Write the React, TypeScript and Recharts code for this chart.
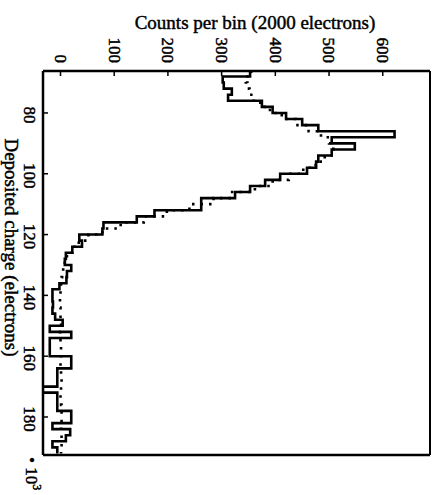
import React from "react";
import { ComposedChart, Line, XAxis, YAxis } from "recharts";

// lower edge of each 2000-electron bin (x 10^3 electrons)
const binEdges = [
    66, 68, 70, 72, 74, 76, 78, 80, 82, 84, 86, 88, 90, 92, 94, 96, 98, 100,
    102, 104, 106, 108, 110, 112, 114, 116, 118, 120, 122, 124, 126, 128, 130,
    132, 134, 136, 138, 140, 142, 144, 146, 148, 150, 152, 154, 156, 158, 160,
    162, 164, 166, 168, 170, 172, 174, 176, 178, 180, 182, 184, 186, 188, 190,
];
const lastEdge = 192;

// measured histogram (solid)
const measuredCounts = [
    353, 302, 304, 319, 312, 375, 395, 420, 450, 480, 622, 505, 548, 505, 480,
    476, 459, 409, 381, 353, 325, 262, 262, 175, 142, 80, 78, 35, 40, 22, 10, 8,
    20, 12, 11, -2, -15, -15, -14, -15, -10, 4, -20, 20, -20, -20, -20, 20, 20,
    -6, -6, -6, -33, -6, -6, -6, 20, 20, -15, 18, 10, -15, -6,
];

// expected shape (dotted)
const fitCounts = [
    355, 345, 348, 352, 360, 372, 390, 412, 438, 462, 485, 500, 508, 505, 492,
    475, 452, 425, 395, 362, 315, 285, 240, 198, 155, 112, 78, 52, 34, 22, 12, 8,
    5, 3, 2, 1, 0, -1, -1, 0, 0, 1, 0, -1, 0, 1, 1, 0, 0, 1, 2, 2, 1, 0, 1, 2,
    2, 2, 1, 1, 2, 2, 1,
];

const countTicks = [0, 100, 200, 300, 400, 500, 600];
const chargeTicks = [80, 100, 120, 140, 160, 180];

const countDomain = [-32.6, 688];
const chargeDomain = [66.2, 192.5];

const FONT = "'Liberation Serif', 'DejaVu Serif', serif";
// scanned original has heavy strokes, thicken text a bit
const ink = { fill: "#000", stroke: "#000", strokeWidth: 0.45 };

const data = binEdges.map((charge, i) => ({
    charge,
    measured: measuredCounts[i],
    fit: fitCounts[i],
}));
data.push({
    charge: lastEdge,
    measured: measuredCounts[measuredCounts.length - 1],
    fit: fitCounts[fitCounts.length - 1],
});

const TopTick = (props: any) => {
    const { x, y, payload } = props;
    const tx = x - 5.6;
    return (
        <g>
            <line x1={x} y1={y} x2={x} y2={y + 5} stroke="#000" strokeWidth={1.5} />
            <text
                x={tx}
                y={63}
                transform={`rotate(90, ${tx}, 63)`}
                textAnchor="end"
                fontFamily={FONT}
                fontSize={17}
                {...ink}
            >
                {payload.value}
            </text>
        </g>
    );
};

const LeftTick = (props: any) => {
    const { x, y, payload } = props;
    const ty = y + 2;
    return (
        <g>
            <line x1={x} y1={y} x2={x + 5} y2={y} stroke="#000" strokeWidth={1.5} />
            <text
                x={23.5}
                y={ty}
                transform={`rotate(90, 23.5, ${ty})`}
                textAnchor="middle"
                fontFamily={FONT}
                fontSize={17}
                {...ink}
            >
                {payload.value}
            </text>
        </g>
    );
};

const CountsTitle = () => (
    <text x={255} y={29} textAnchor="middle" fontFamily={FONT} fontSize={19} {...ink}>
        Counts per bin (2000 electrons)
    </text>
);

const ChargeTitle = () => (
    <g>
        <text
            x={5}
            y={247.5}
            transform="rotate(90, 5, 247.5)"
            textAnchor="middle"
            fontFamily={FONT}
            fontSize={19}
            {...ink}
        >
            Deposited charge (electrons)
        </text>
        <text
            x={26}
            y={457}
            transform="rotate(90, 26, 457)"
            fontFamily={FONT}
            fontSize={17}
            {...ink}
        >
            {"• 10"}
            <tspan dy={-7} fontSize={12}>3</tspan>
        </text>
    </g>
);

const frame = { stroke: "#000", strokeWidth: 2.5 };

export default function App() {
    return (
        <div style={{ position: "absolute", left: 0, top: 0, width: 436, height: 495, background: "#fff" }}>
            <ComposedChart
                width={436}
                height={495}
                data={data}
                layout="vertical"
                margin={{ top: 0, right: 0, bottom: 0, left: 0 }}
            >
                <XAxis
                    type="number"
                    orientation="top"
                    domain={countDomain}
                    allowDataOverflow
                    ticks={countTicks}
                    interval={0}
                    height={71}
                    tickSize={0}
                    tickMargin={0}
                    tickLine={false}
                    axisLine={frame}
                    tick={<TopTick />}
                    label={<CountsTitle />}
                />
                <XAxis
                    xAxisId="b"
                    type="number"
                    orientation="bottom"
                    domain={countDomain}
                    allowDataOverflow
                    height={40}
                    tick={false}
                    tickLine={false}
                    axisLine={frame}
                />
                <YAxis
                    type="number"
                    dataKey="charge"
                    orientation="left"
                    domain={chargeDomain}
                    allowDataOverflow
                    ticks={chargeTicks}
                    interval={0}
                    width={43}
                    tickSize={0}
                    tickMargin={0}
                    tickLine={false}
                    axisLine={frame}
                    tick={<LeftTick />}
                    label={<ChargeTitle />}
                />
                <YAxis
                    yAxisId="r"
                    type="number"
                    dataKey="charge"
                    orientation="right"
                    domain={chargeDomain}
                    allowDataOverflow
                    width={6}
                    tick={false}
                    tickLine={false}
                    axisLine={{ stroke: "#000", strokeWidth: 2 }}
                />
                <Line
                    dataKey="fit"
                    type="stepBefore"
                    stroke="#000"
                    strokeWidth={2.6}
                    strokeDasharray="2.5 6"
                    dot={false}
                    activeDot={false}
                    isAnimationActive={false}
                />
                <Line
                    dataKey="measured"
                    type="stepBefore"
                    stroke="#000"
                    strokeWidth={2.6}
                    dot={false}
                    activeDot={false}
                    isAnimationActive={false}
                />
            </ComposedChart>
        </div>
    );
}
